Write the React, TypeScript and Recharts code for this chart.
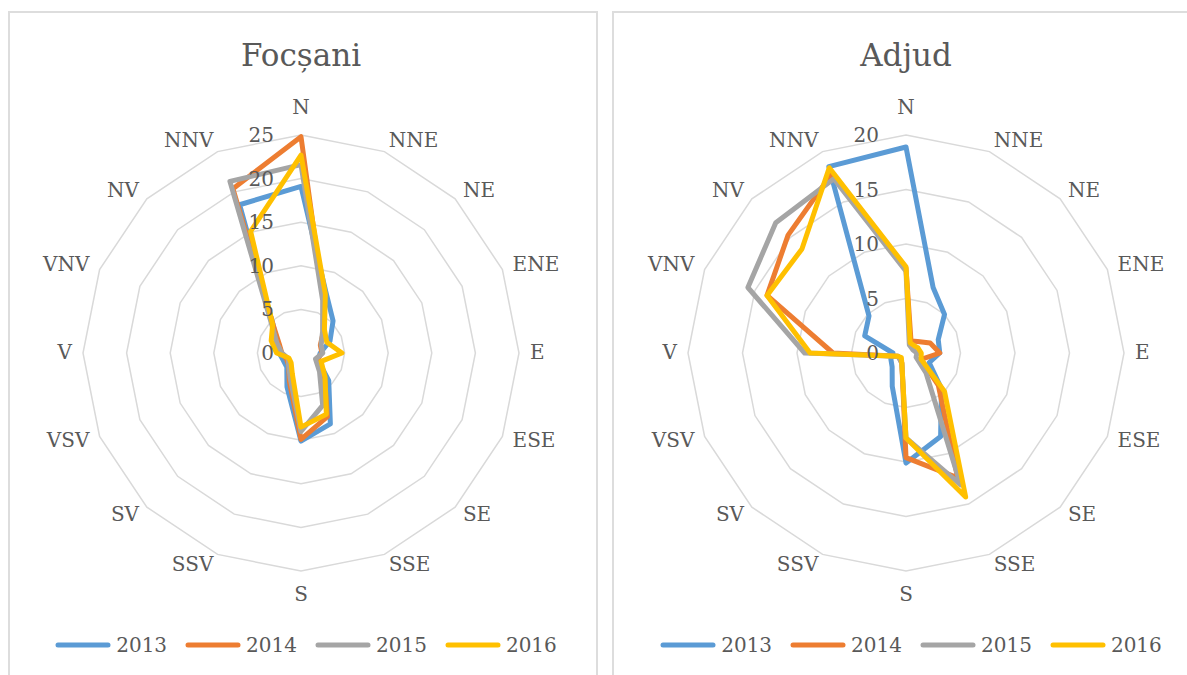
import { RadarChart, Radar, PolarGrid, PolarAngleAxis, PolarRadiusAxis, Legend } from 'recharts';

const DIRECTIONS = ['N', 'NNE', 'NE', 'ENE', 'E', 'ESE', 'SE', 'SSE', 'S', 'SSV', 'SV', 'VSV', 'V', 'VNV', 'NV', 'NNV'];
const YEARS = ['2013', '2014', '2015', '2016'];
const COLORS = ['#5B9BD5', '#ED7D31', '#A5A5A5', '#FFC000'];

// Focșani, % frequency per direction
const FOCSANI_2013 = [19.1, 7.5, 5.2, 3.6, 2.2, 2.1, 4.5, 8.8, 10.1, 4.2, 2.3, 2.2, 2.5, 3.0, 4.5, 18.4];
const FOCSANI_2014 = [24.8, 6.7, 3.7, 2.4, 2.4, 2.0, 3.8, 7.9, 9.9, 3.5, 2.0, 1.8, 2.2, 2.7, 4.5, 20.4];
const FOCSANI_2015 = [21.6, 6.5, 3.5, 2.5, 2.5, 1.8, 3.0, 6.5, 9.0, 3.2, 2.0, 1.6, 2.2, 3.0, 4.8, 21.3];
const FOCSANI_2016 = [22.7, 7.3, 3.8, 3.2, 4.7, 2.5, 3.9, 7.6, 8.5, 2.6, 1.6, 1.5, 2.8, 3.7, 4.6, 15.1];

// Adjud
const ADJUD_2013 = [18.9, 6.5, 5.0, 3.2, 3.1, 2.3, 4.6, 8.3, 10.1, 3.3, 1.8, 1.5, 1.2, 4.1, 4.8, 18.5];
const ADJUD_2014 = [7.8, 1.2, 1.5, 2.4, 3.1, 1.5, 4.2, 12.4, 9.6, 1.0, 0.8, 0.8, 6.7, 13.8, 15.3, 17.8];
const ADJUD_2015 = [7.5, 0.8, 0.7, 0.7, 1.0, 1.0, 2.6, 13.1, 7.8, 1.0, 0.8, 0.8, 9.3, 15.7, 16.9, 17.3];
const ADJUD_2016 = [7.9, 1.0, 1.0, 1.2, 1.4, 1.5, 5.0, 14.3, 7.8, 1.0, 0.6, 0.8, 8.8, 13.8, 13.5, 18.4];

const FONT = '"DejaVu Serif", serif';
const TEXT = '#595959';
const GRID = '#D9D9D9';
const R = 218;

function buildRows(series: number[][]) {
  return DIRECTIONS.map((d, i) => {
    const row: Record<string, string | number> = { dir: d };
    YEARS.forEach((y, k) => {
      row[y] = series[k][i];
    });
    return row;
  });
}

const LegendContent = ({ payload, shift }: any) => (
  <div
    style={{
      display: 'flex',
      justifyContent: 'center',
      alignItems: 'center',
      gap: 18,
      marginLeft: shift,
      fontFamily: FONT,
      fontSize: 20,
      color: TEXT,
    }}
  >
    {(payload || []).map((p: any) => (
      <div key={p.value} style={{ display: 'flex', alignItems: 'center' }}>
        <svg width={56} height={10}>
          <line x1={3} y1={5} x2={53} y2={5} stroke={p.color} strokeWidth={5} strokeLinecap="round" />
        </svg>
        <span style={{ marginLeft: 5, lineHeight: '24px' }}>{p.value}</span>
      </div>
    ))}
  </div>
);

function WindRose({
  title,
  series,
  max,
  width,
  cx,
  left,
}: {
  title: string;
  series: number[][];
  max: number;
  width: number;
  cx: number;
  left: number;
}) {
  const cy = 353;
  const rows = buildRows(series);
  const ticks = Math.round(max / 5) + 1;

  // Excel-like placement: side labels start/end-aligned at R+11, top/bottom centred further out
  const angleTick = (props: any) => {
    const { x, y, payload } = props;
    const a = Math.atan2(y - cy, x - cx);
    const ux = Math.cos(a);
    const uy = Math.sin(a);
    const D = R + 11;
    let tx = cx + D * ux;
    let ty = cy + D * uy - 1;
    let anchor: 'start' | 'end' | 'middle' = 'middle';
    if (ux > 0.05) anchor = 'start';
    else if (ux < -0.05) anchor = 'end';
    else ty += uy < 0 ? -16 : 13;
    return (
      <text
        x={tx}
        y={ty}
        textAnchor={anchor}
        dominantBaseline="central"
        fontFamily={FONT}
        fontSize={20}
        fill={TEXT}
      >
        {payload.value}
      </text>
    );
  };

  const radiusTick = (props: any) => (
    <text
      x={props.x - 27}
      y={props.y}
      textAnchor="end"
      dominantBaseline="central"
      fontFamily={FONT}
      fontSize={20}
      fill={TEXT}
    >
      {props.payload.value}
    </text>
  );

  return (
    <div style={{ position: 'absolute', left, top: 0, width, height: 675 }}>
      <div
        style={{
          position: 'absolute',
          top: 38,
          left: 0,
          width: cx * 2,
          textAlign: 'center',
          fontFamily: FONT,
          fontSize: 31,
          lineHeight: '34px',
          color: TEXT,
        }}
      >
        {title}
      </div>
      <RadarChart
        width={width}
        height={675}
        data={rows}
        cx={cx}
        cy={cy}
        outerRadius={R}
        margin={{ top: 0, right: 0, bottom: 0, left: 0 }}
      >
        <PolarGrid gridType="polygon" radialLines={false} stroke={GRID} strokeWidth={1.5} />
        <PolarAngleAxis dataKey="dir" tick={angleTick} axisLine={false} tickLine={false} />
        {YEARS.map((y, k) => (
          <Radar
            key={y}
            name={y}
            dataKey={y}
            stroke={COLORS[k]}
            strokeWidth={5}
            strokeLinejoin="round"
            fill="none"
            fillOpacity={0}
            dot={false}
            isAnimationActive={false}
          />
        ))}
        <PolarRadiusAxis
          angle={90}
          domain={[0, max]}
          tickCount={ticks}
          axisLine={false}
          tickLine={false}
          tick={radiusTick}
        />
        <Legend
          content={(p: any) => <LegendContent payload={p.payload} shift={(cx - width / 2) * 2 + 10} />}
          wrapperStyle={{ position: 'absolute', top: 633, left: 0, width }}
        />
      </RadarChart>
    </div>
  );
}

export default function App() {
  return (
    <div style={{ position: 'absolute', left: 0, top: 0, width: 1187, height: 675, background: '#fff', overflow: 'hidden' }}>
      <div style={{ position: 'absolute', left: 8, top: 11, width: 586, height: 700, border: '2px solid #DDDDDD' }} />
      <div style={{ position: 'absolute', left: 612, top: 11, width: 600, height: 700, border: '2px solid #DDDDDD' }} />
      <WindRose
        title="Focșani"
        series={[FOCSANI_2013, FOCSANI_2014, FOCSANI_2015, FOCSANI_2016]}
        max={25}
        width={600}
        cx={301}
        left={0}
      />
      <WindRose
        title="Adjud"
        series={[ADJUD_2013, ADJUD_2014, ADJUD_2015, ADJUD_2016]}
        max={20}
        width={587}
        cx={306}
        left={600}
      />
    </div>
  );
}
